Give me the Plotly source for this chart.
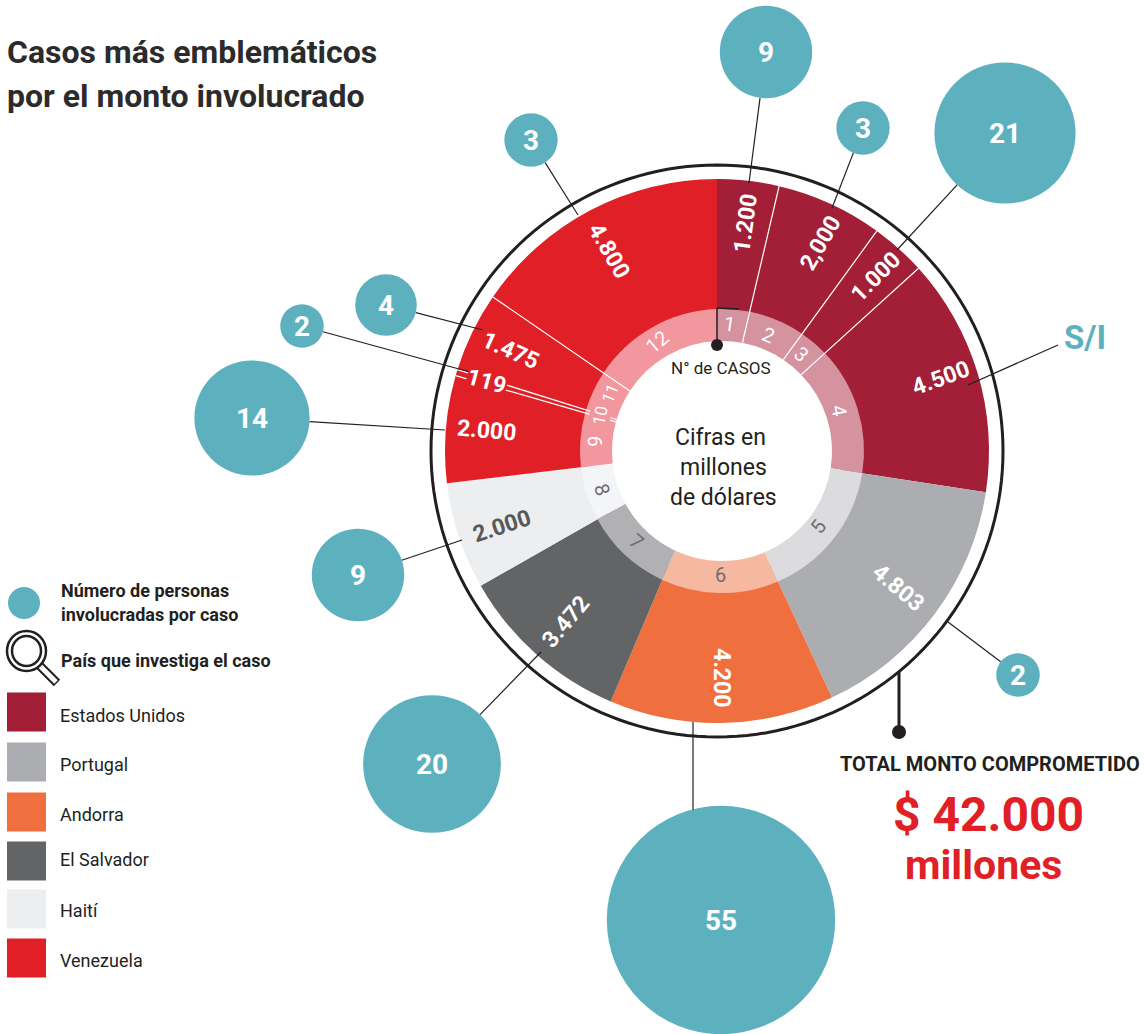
import math
import plotly.graph_objects as go

W, H = 1144, 1034
CX, CY = 717, 451
RING_CX = 722      # the inner ring sits slightly off-centre in the original
FONT = "Roboto, Liberation Sans, Arial"

cases = ["1","2","3","4","5","6","7","8","9","10","11","12"]
amounts = ["1.200","2,000","1.000","4.500","4.803","4.200","3.472","2.000","2.000","119","1.475","4.800"]
persons = [9,3,21,None,2,55,20,9,14,2,4,3]
countries = ["Estados Unidos","Estados Unidos","Estados Unidos","Estados Unidos","Portugal","Andorra",
             "El Salvador","Haití","Venezuela","Venezuela","Venezuela","Venezuela"]
# wedge end angles, clockwise from 12 o'clock
angle_end = [13.2,36,47.8,98.7,155,203,240.3,263.2,286.1,287.4,304.5,360]
divider_angles = [13.2,36,47.8,286.1,287.4,304.5]

legend_names = ["Estados Unidos","Portugal","Andorra","El Salvador","Haití","Venezuela"]
dark = dict(zip(legend_names,["#a21f37","#acadb0","#f06f3f","#636466","#edeef0","#e01f26"]))
tint = dict(zip(legend_names,["#d4939f","#dcdcde","#f7b8a2","#b1b1b3","#f4f5f6","#f2979d"]))
legend_y = [712,762,812,861,909,958]
legend_text_y = [715,764,814,859,910,960]

# layout geometry
R_IN, R_RING, R_BASE, R_OUT, R_CIRCLE, R_AXIS = 110, 142, 125, 272, 286, 300
starts = [0]+angle_end[:-1]
centers = [(a+b)/2 for a,b in zip(starts,angle_end)]
widths = [b-a for a,b in zip(starts,angle_end)]

def ring_angle(a, r=126):
    """Angle seen from the ring centre of a ray leaving the wedge centre at angle a."""
    x = r*math.sin(math.radians(a)) + CX - RING_CX
    y = r*math.cos(math.radians(a))
    raw = math.degrees(math.atan2(x, y))
    return a + ((raw - a + 180) % 360 - 180)

def inner_start(a):
    """Distance along a ray from the wedge centre to the ring's inner edge."""
    dx = CX - RING_CX
    s = math.sin(math.radians(a))
    return -dx*s + math.sqrt((dx*s)**2 - dx*dx + R_IN*R_IN)

ring_starts = [ring_angle(a) for a in starts]
ring_ends = [ring_angle(a) for a in angle_end]
ring_centers = [(a+b)/2 for a,b in zip(ring_starts,ring_ends)]
ring_widths = [b-a for a,b in zip(ring_starts,ring_ends)]

# bubble centres (pixels) and leader start points
bubble_x = [766,863,1005,None,1018,721,432,358,252,302,386,531]
bubble_y = [52,128,133,None,675,920,764,575,418,326,305,140]
leader_sx = [749,832,897,968,948,693,541,462,445,470,483,578]
leader_sy = [183,208,250,385,622,722,652,540,430,372,330,215]
leader_ex = [None,None,None,1058,None,693,None,None,None,None,None,None]
leader_ey = [None,None,None,345,None,810,None,None,None,None,None,None]

# value labels
val_x = [745,820,875,940,898,722,565,501,486,487,510,609]
val_y = [224,243,277,378,587,677,622,526,430,381,350,250]
val_rot = [-82,-60,-45,-20,40,90,-50,-18,5,15,24,60]
val_color = ["white"]*7+["#58595b"]+["white"]*4
# ring numbers
ring_x = [729,768,801,839,818,720,636,602,595,600,610,657]
ring_y = [324,335,354,410,527,575,541,489,442,416,394,342]
ring_rot = [8,24,42,80,-53,0,40,72,-86,-78,-68,-40]
ring_size = [20,20,20,20,20,20,20,20,20,17,17,20]
ring_color = ["white"]*4+["#6d6e71"]*4+["white"]*4

fig = go.Figure()

# --- bubbles & legend on a pixel-scaled cartesian axis ---
TEAL = "#5db1bf"
bx = [x for x in bubble_x if x is not None]
by = [y for y in bubble_y if y is not None]
bp = [p for p in persons if p is not None]
SIZEREF = 1/474.3
fig.add_trace(go.Scatter(x=bx, y=by, mode="markers", showlegend=False, hoverinfo="skip",
    marker=dict(size=bp, sizemode="area", sizeref=SIZEREF, color=TEAL, opacity=1, line=dict(width=0))))
fig.add_trace(go.Scatter(x=[24], y=[603], mode="markers", showlegend=False, hoverinfo="skip",
    marker=dict(size=32, color=TEAL, opacity=1, line=dict(width=0))))
fig.add_trace(go.Scatter(x=[26.5]*6, y=legend_y, mode="markers", showlegend=False, hoverinfo="skip",
    marker=dict(symbol="square", size=39, color=[dark[n] for n in legend_names], opacity=1, line=dict(width=0))))

# --- wedges on polar axes ---
fig.add_trace(go.Barpolar(theta=centers, width=widths, base=[R_BASE]*12, r=[R_OUT-R_BASE]*12, subplot="polar",
    marker=dict(color=[dark[c] for c in countries], line=dict(width=0)), showlegend=False, hoverinfo="skip"))
th = list(range(0,361,2))
fig.add_trace(go.Scatterpolar(theta=th, r=[R_CIRCLE]*len(th), mode="lines", showlegend=False, hoverinfo="skip",
    subplot="polar", line=dict(color="#231f20", width=3)))
fig.add_trace(go.Barpolar(theta=ring_centers, width=ring_widths, base=[R_IN]*12, r=[R_RING-R_IN]*12, subplot="polar2",
    marker=dict(color=[tint[c] for c in countries], line=dict(width=0)), showlegend=False, hoverinfo="skip"))
for a in divider_angles:
    fig.add_trace(go.Scatterpolar(theta=[a,a], r=[inner_start(a),R_OUT], mode="lines", showlegend=False, hoverinfo="skip",
        subplot="polar3", line=dict(color="white", width=1.2)))

# --- leaders ---
INK = "#231f20"
shapes = []
def seg(x0,y0,x1,y1,w=1.2):
    shapes.append(dict(type="line", xref="x", yref="y", x0=x0,y0=y0,x1=x1,y1=y1, line=dict(color=INK,width=w), layer="above"))
for i in range(12):
    sx, sy = leader_sx[i], leader_sy[i]
    if leader_ex[i] is not None:
        seg(sx, sy, leader_ex[i], leader_ey[i])
    else:
        bxx, byy = bubble_x[i], bubble_y[i]
        rad = 15.4*math.sqrt(persons[i])
        d = math.hypot(bxx-sx, byy-sy)
        seg(sx, sy, bxx-(bxx-sx)*rad/d, byy-(byy-sy)*rad/d)
# N° de casos pointer and total pointer
seg(717,343,717,308,1.5); seg(717,308,739,309,1.5)
seg(899,672,899,732,3)
for (x,y,r) in [(717,345,6),(899,732,7)]:
    shapes.append(dict(type="circle", xref="x", yref="y", x0=x-r,x1=x+r,y0=y-r,y1=y+r,
                       fillcolor=INK, line=dict(width=0), layer="above"))
# magnifier icon
shapes.append(dict(type="line", xref="x", yref="y", x0=40,y0=666,x1=57,y1=683, line=dict(color=INK,width=9), layer="above"))
shapes.append(dict(type="line", xref="x", yref="y", x0=40,y0=666,x1=56,y1=682, line=dict(color="white",width=5), layer="above"))
shapes.append(dict(type="circle", xref="x", yref="y", x0=7,x1=46,y0=631,y1=671, fillcolor="white", line=dict(color=INK,width=2.5), layer="above"))
shapes.append(dict(type="circle", xref="x", yref="y", x0=12,x1=41,y0=636,y1=666, line=dict(color=INK,width=2.5), layer="above"))

# --- text ---
ann = []
def txt(x,y,s,size,color=INK,bold=False,rot=0,anchor="center",bg=None):
    d = dict(x=x,y=y,xref="x",yref="y",text=f"<b>{s}</b>" if bold else s,showarrow=False,textangle=rot,
        xanchor=anchor,yanchor="middle",align="center",font=dict(family=FONT,size=size,color=color))
    if bg:
        d.update(bgcolor=bg,borderpad=0)
    ann.append(d)
for i in range(12):
    txt(val_x[i],val_y[i],amounts[i],23,val_color[i],True,val_rot[i],bg="#e01f26" if amounts[i]=="119" else None)
    txt(ring_x[i],ring_y[i],cases[i],ring_size[i],ring_color[i],False,ring_rot[i],bg=tint["Venezuela"] if cases[i]=="10" else None)
for i in range(12):
    if persons[i] is not None:
        txt(bubble_x[i],bubble_y[i],str(persons[i]),28,"white",True)
txt(1085,337,"S/I",33,TEAL,True)
txt(5,52,"Casos más emblemáticos",32,"#2b2b2b",True,anchor="left")
txt(5,96,"por el monto involucrado",32,"#2b2b2b",True,anchor="left")
txt(59,590,"Número de personas",18,INK,True,anchor="left")
txt(59,614,"involucradas por caso",18,INK,True,anchor="left")
txt(59,660,"País que investiga el caso",18,INK,True,anchor="left")
for n,y in zip(legend_names,legend_text_y):
    txt(58,y,n,18,INK,anchor="left")
txt(721,368,"N° de CASOS",17)
txt(720,437,"Cifras en",23)
txt(723,467,"millones",23)
txt(723,497,"de dólares",23)
txt(990,764,"TOTAL MONTO COMPROMETIDO",20,INK,True)
txt(988,814,"$ 42.000",48,"#e01f26",True)
txt(983,865,"millones",41,"#e01f26",True)

def polar_axes(cx):
    return dict(
        domain=dict(x=[(cx-R_AXIS)/W,(cx+R_AXIS)/W], y=[1-(CY+R_AXIS)/H,1-(CY-R_AXIS)/H]),
        bgcolor="rgba(0,0,0,0)",
        radialaxis=dict(range=[0,R_AXIS],visible=False),
        angularaxis=dict(rotation=90,direction="clockwise",visible=False),
    )

fig.update_layout(
    width=W, height=H, margin=dict(l=0,r=0,t=0,b=0), autosize=False,
    paper_bgcolor="white", plot_bgcolor="rgba(0,0,0,0)", showlegend=False,
    xaxis=dict(range=[0,W],domain=[0,1],visible=False,fixedrange=True),
    yaxis=dict(range=[H,0],domain=[0,1],visible=False,fixedrange=True),
    polar=polar_axes(CX), polar2=polar_axes(RING_CX), polar3=polar_axes(CX),
    shapes=shapes, annotations=ann,
)
fig.write_html("out.html", config={"displayModeBar":False},
               post_script="document.body.style.margin='0';document.documentElement.style.overflow='hidden';")
